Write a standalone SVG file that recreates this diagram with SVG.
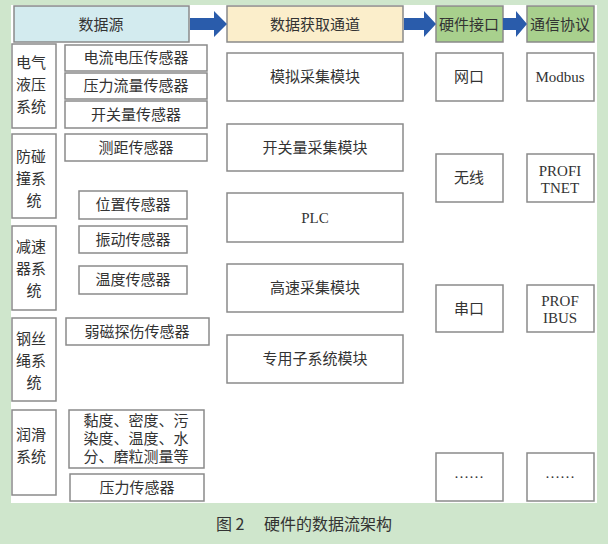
<svg xmlns="http://www.w3.org/2000/svg" width="608" height="544" viewBox="0 0 608 544">
<style>
.b{fill:#fff;stroke:#8a8a8a;stroke-width:1.5}
.t{font-family:"Liberation Serif","Noto Sans CJK SC",serif;font-size:15px;fill:#333;text-anchor:middle}
.s{font-family:"Liberation Serif","Noto Sans CJK SC",serif;font-size:15px;fill:#333}
.a{fill:#2a5cab}
</style>
<rect width="608" height="544" fill="#cfe6cc"/>
<rect x="11" y="5" width="586" height="498" fill="#fff"/>
<g id="headers">
<rect x="14" y="6" width="175" height="36" fill="#d3ebef" stroke="#8a8a8a" stroke-width="1.5"/><text class="t" x="101" y="30">数据源</text>
<rect x="227" y="6" width="176" height="36" fill="#fbeecb" stroke="#8a8a8a" stroke-width="1.5"/><text class="t" x="315" y="30">数据获取通道</text>
<rect x="436" y="6" width="67" height="36" fill="#a8d08d" stroke="#8a8a8a" stroke-width="1.5"/><text class="t" x="469" y="30" font-size="14">硬件接口</text>
<rect x="527" y="6" width="67" height="36" fill="#a8d08d" stroke="#8a8a8a" stroke-width="1.5"/><text class="t" x="560" y="30" font-size="14">通信协议</text>
</g>
<g id="connectors">
<polygon class="a" points="190,18 214,18 214,11 227,24 214,37 214,30 190,30"/>
<polygon class="a" points="404,18 424,18 424,11 436,24 424,37 424,30 404,30"/>
<polygon class="a" points="503,18 516,18 516,11 527,24 516,37 516,30 503,30"/>
</g>
<g id="systems">
<rect class="b" x="12" y="44" width="44" height="84"/><text class="s" x="16" y="68">电气</text><text class="s" x="16" y="90">液压</text><text class="s" x="16" y="112">系统</text>
<rect class="b" x="12" y="134" width="44" height="84"/><text class="s" x="16" y="162">防碰</text><text class="s" x="16" y="184">撞系</text><text class="t" x="34" y="206">统</text>
<rect class="b" x="12" y="226" width="44" height="84"/><text class="s" x="16" y="252">减速</text><text class="s" x="16" y="274">器系</text><text class="t" x="34" y="296">统</text>
<rect class="b" x="12" y="318" width="44" height="83"/><text class="s" x="16" y="344">钢丝</text><text class="s" x="16" y="366">绳系</text><text class="t" x="34" y="388">统</text>
<rect class="b" x="12" y="410" width="44" height="85"/><text class="s" x="16" y="440">润滑</text><text class="s" x="16" y="462">系统</text>
</g>
<g id="sensors">
<rect class="b" x="65" y="45" width="142" height="26"/><text class="t" x="136" y="63">电流电压传感器</text>
<rect class="b" x="65" y="73" width="142" height="26"/><text class="t" x="136" y="91">压力流量传感器</text>
<rect class="b" x="65" y="101" width="142" height="27"/><text class="t" x="136" y="120">开关量传感器</text>
<rect class="b" x="65" y="134" width="142" height="27"/><text class="t" x="136" y="153">测距传感器</text>
<rect class="b" x="79" y="191" width="108" height="28"/><text class="t" x="133" y="210">位置传感器</text>
<rect class="b" x="79" y="226" width="108" height="27"/><text class="t" x="133" y="245">振动传感器</text>
<rect class="b" x="79" y="266" width="108" height="28"/><text class="t" x="133" y="285">温度传感器</text>
<rect class="b" x="66" y="318" width="143" height="27"/><text class="t" x="137" y="337">弱磁探伤传感器</text>
<rect class="b" x="69" y="410" width="135" height="58"/><text class="t" x="136" y="426">黏度、密度、污</text><text class="t" x="136" y="444">染度、温度、水</text><text class="t" x="136" y="462">分、磨粒测量等</text>
<rect class="b" x="70" y="474" width="134" height="27"/><text class="t" x="137" y="493">压力传感器</text>
</g>
<g id="channels">
<rect class="b" x="227" y="53" width="176" height="48"/><text class="t" x="315" y="82">模拟采集模块</text>
<rect class="b" x="227" y="124" width="176" height="47"/><text class="t" x="315" y="153">开关量采集模块</text>
<rect class="b" x="227" y="193" width="176" height="49"/><text class="t" x="315" y="223">PLC</text>
<rect class="b" x="227" y="264" width="176" height="48"/><text class="t" x="315" y="293">高速采集模块</text>
<rect class="b" x="227" y="335" width="176" height="48"/><text class="t" x="315" y="364">专用子系统模块</text>
</g>
<g id="interfaces">
<rect class="b" x="436" y="53" width="67" height="48"/><text class="t" x="469" y="82">网口</text>
<rect class="b" x="436" y="154" width="67" height="48"/><text class="t" x="469" y="183">无线</text>
<rect class="b" x="436" y="285" width="67" height="47"/><text class="t" x="469" y="314">串口</text>
<rect class="b" x="436" y="453" width="67" height="48"/><text class="t" x="469" y="478" font-size="10">……</text>
</g>
<g id="protocols">
<rect class="b" x="527" y="53" width="67" height="48"/><text class="t" x="560" y="82">Modbus</text>
<rect class="b" x="527" y="154" width="67" height="48"/><text class="t" x="560" y="176">PROFI</text><text class="t" x="560" y="193">TNET</text>
<rect class="b" x="527" y="285" width="67" height="47"/><text class="t" x="560" y="306">PROF</text><text class="t" x="560" y="323">IBUS</text>
<rect class="b" x="527" y="453" width="67" height="48"/><text class="t" x="560" y="478" font-size="10">……</text>
</g>
<text x="304" y="530" font-family="'Noto Sans CJK SC',sans-serif" font-size="16" fill="#333" text-anchor="middle" xml:space="preserve">图 2　 硬件的数据流架构</text>
</svg>
